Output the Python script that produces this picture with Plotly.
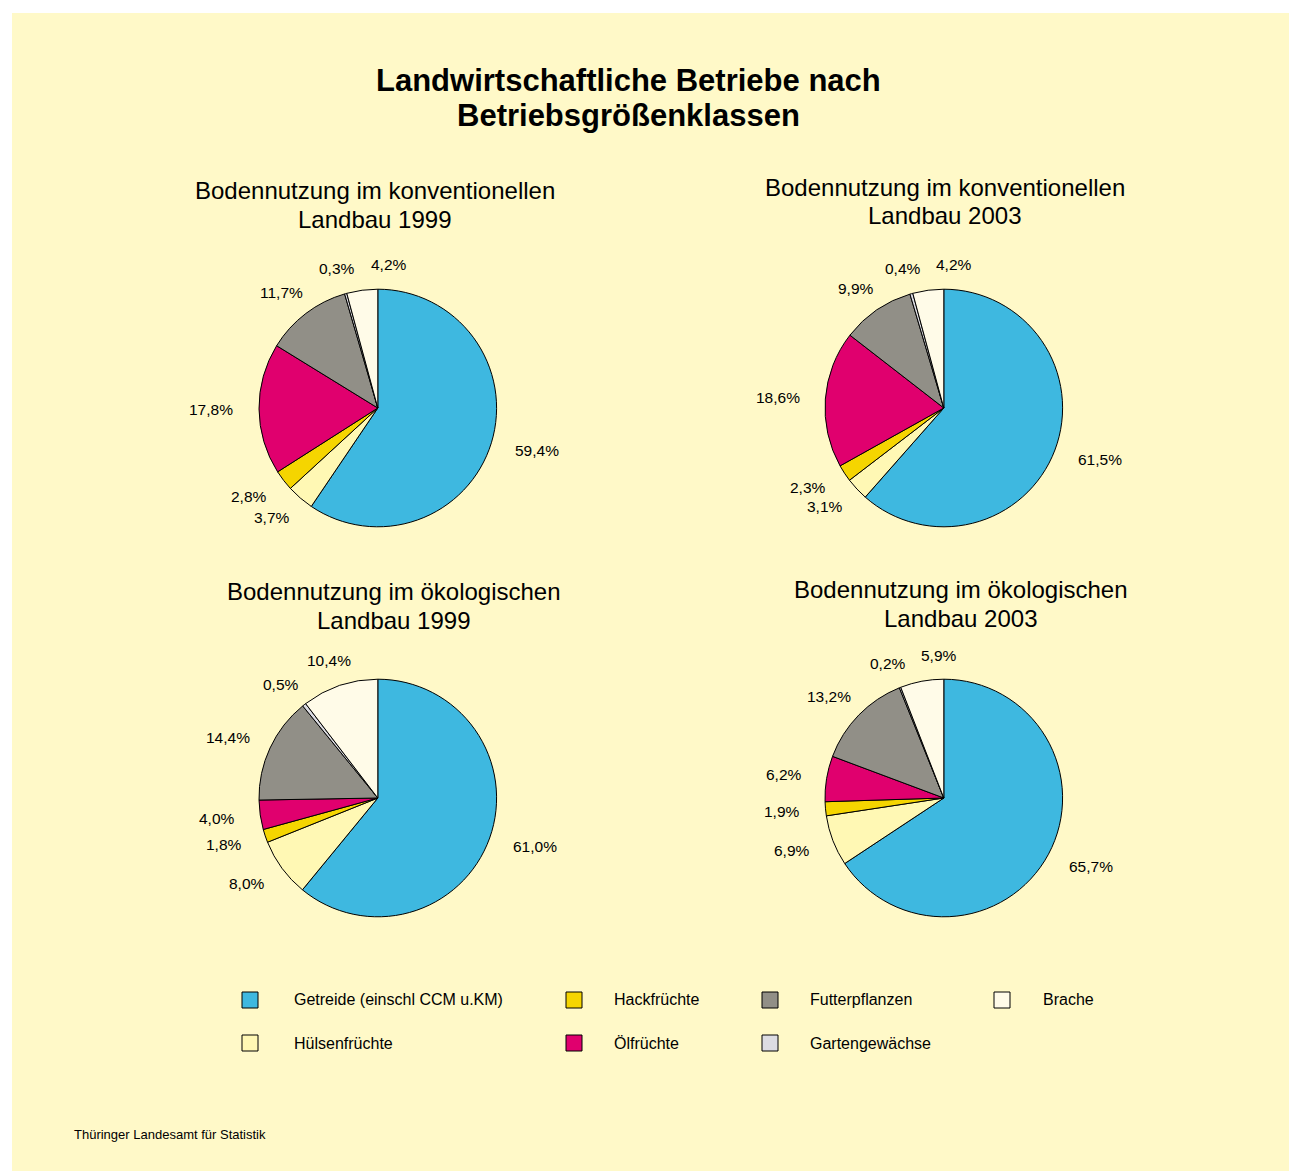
import math
import plotly.graph_objects as go

# ---------------- data ----------------
categories = ["Getreide (einschl CCM u.KM)", "Hülsenfrüchte", "Hackfrüchte",
              "Ölfrüchte", "Futterpflanzen", "Gartengewächse", "Brache"]
konv_1999 = [59.4, 3.7, 2.8, 17.8, 11.7, 0.3, 4.2]
konv_2003 = [61.5, 3.1, 2.3, 18.6, 9.9, 0.4, 4.2]
oeko_1999 = [61.0, 8.0, 1.8, 4.0, 14.4, 0.5, 10.4]
oeko_2003 = [65.7, 6.9, 1.9, 6.2, 13.2, 0.2, 5.9]
subtitles = [
    ("Bodennutzung im konventionellen", "Landbau 1999"),
    ("Bodennutzung im konventionellen", "Landbau 2003"),
    ("Bodennutzung im ökologischen", "Landbau 1999"),
    ("Bodennutzung im ökologischen", "Landbau 2003"),
]
title_lines = ["Landwirtschaftliche Betriebe nach", "Betriebsgrößenklassen"]
source_text = "Thüringer Landesamt für Statistik"

# ---------------- style ----------------
W, H = 1289, 1171
FONT = "Liberation Sans, Arial, Helvetica, sans-serif"
BG = "#FFF9C8"
colors = ["#3EB8E0", "#FFF8B4", "#F5D500", "#E0006E", "#918F87", "#DCDCE2", "#FFFBE8"]
R = 118.8
LABEL_SIZE = 15.5
LEGEND_SIZE = 16

# pie layout: (values, centre x, centre y, subtitle centre x, subtitle first line y)
pies = [
    (konv_1999, 377.8, 408.0, 375, 190),
    (konv_2003, 943.8, 408.0, 945, 187),
    (oeko_1999, 377.8, 798.0, 394, 591),
    (oeko_2003, 943.8, 798.0, 961, 589),
]

def px(x):
    return x / W

def py(y):
    return 1 - y / H

def fmt(v):
    return f"{v:.1f}".replace(".", ",") + "%"

def text_width(s, size):
    w = 0.0
    for ch in s:
        if ch.isdigit():
            w += 0.556
        elif ch == ",":
            w += 0.278
        elif ch == "%":
            w += 0.889
        else:
            w += 0.55
    return w * size

fig = go.Figure()
annotations = []

for idx, (vals, cx, cy, sx, sy) in enumerate(pies):
    fig.add_trace(go.Pie(
        values=vals, labels=categories, sort=False,
        direction="clockwise", rotation=0,
        marker=dict(colors=colors, line=dict(color="black", width=1)),
        textinfo="none", hoverinfo="label+value", showlegend=False,
        domain=dict(x=[px(cx - R), px(cx + R)], y=[py(cy + R), py(cy - R)]),
    ))
    # subtitles
    for k, line in enumerate(subtitles[idx]):
        annotations.append(dict(
            x=px(sx), y=py(sy + k * 29), xref="paper", yref="paper",
            text=line, showarrow=False, xanchor="center", yanchor="middle",
            font=dict(family=FONT, size=24, color="black")))
    # percentage labels placed along each slice's mid angle
    total = sum(vals)
    cum = 0.0
    placed = []
    d = R + 26
    for v in vals:
        theta = 2 * math.pi * (cum + v / 2) / total
        cum += v
        s, c = math.sin(theta), math.cos(theta)
        txt = fmt(v)
        w = text_width(txt, LABEL_SIZE)
        shift = s if c < 0 else s * abs(s)
        lx = cx + d * s + shift * w / 2
        ly = cy - d * c
        for (ox, oy, ow) in placed:
            if abs(lx - ox) < (w + ow) / 2 + 6 and abs(ly - oy) < 16:
                lx = ox + (w + ow) / 2 + 16
        placed.append((lx, ly, w))
        annotations.append(dict(
            x=px(lx), y=py(ly), xref="paper", yref="paper", text=txt,
            showarrow=False, xanchor="center", yanchor="middle",
            font=dict(family=FONT, size=LABEL_SIZE, color="black")))

# main title
for k, line in enumerate(title_lines):
    annotations.append(dict(
        x=px(628), y=py(80.5 + k * 35), xref="paper", yref="paper", text=line,
        showarrow=False, xanchor="center", yanchor="middle",
        font=dict(family=FONT, size=31, color="black", weight="bold")))

# manual legend (column-major, 2 rows)
legend_cols = [(250, 292), (574, 612), (770, 808), (1002, 1041)]
legend_rows = [1000, 1043]
shapes = [dict(type="rect", xref="paper", yref="paper", x0=px(12), x1=1,
               y0=0, y1=py(13), fillcolor=BG, line=dict(width=0), layer="below")]
for i, (cat, col) in enumerate(zip(categories, colors)):
    ci, ri = i // 2, i % 2
    sqx, tx = legend_cols[ci]
    yy = legend_rows[ri]
    shapes.append(dict(type="rect", xref="paper", yref="paper",
                       x0=px(sqx - 8), x1=px(sqx + 8), y0=py(yy + 8), y1=py(yy - 8),
                       fillcolor=col, line=dict(color="black", width=1)))
    annotations.append(dict(
        x=px(tx), y=py(yy), xref="paper", yref="paper", text=cat,
        showarrow=False, xanchor="left", yanchor="middle",
        font=dict(family=FONT, size=LEGEND_SIZE, color="black")))

annotations.append(dict(
    x=px(72), y=py(1134), xref="paper", yref="paper", text=source_text,
    showarrow=False, xanchor="left", yanchor="middle",
    font=dict(family=FONT, size=13, color="black")))

fig.update_layout(
    width=W, height=H,
    margin=dict(l=0, r=0, t=0, b=0),
    paper_bgcolor="white", plot_bgcolor="white",
    annotations=annotations, shapes=shapes,
    showlegend=False,
)

fig.write_html("out.html",
               config={"displayModeBar": False},
               post_script="document.body.style.margin='0px';document.body.style.overflow='hidden';")
